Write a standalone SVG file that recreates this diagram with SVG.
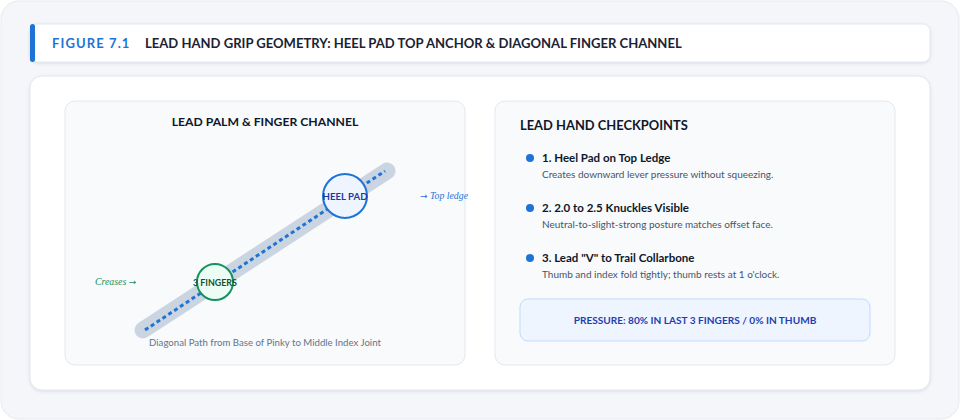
<svg xmlns="http://www.w3.org/2000/svg" width="960" height="420" viewBox="0 0 960 420">
<defs>
<filter id="sh" x="-5%" y="-10%" width="110%" height="130%">
<feDropShadow dx="0" dy="1" stdDeviation="1.5" flood-color="#94a3b8" flood-opacity="0.3"/>
</filter>
<style>
.t{font-family:Lato,"Liberation Sans",sans-serif}
.b{font-weight:700}
.sub{fill:#f8fafc;stroke:#e2e8f0;stroke-width:1}
.h{font-size:11.5px;fill:#0f172a;font-weight:700}
.d{font-size:10px;fill:#475569}
.dot{fill:#1e74d6}
.it{font-family:"Liberation Serif",serif;font-style:italic;font-size:9.8px}
.ar{font-family:"DejaVu Sans",sans-serif;font-style:normal;font-size:9px}
</style>
</defs>
<rect x="1" y="1" width="958" height="418" rx="18" fill="#f4f6f9" stroke="#e5e9f0"/>
<g id="header">
<rect x="30" y="24" width="900" height="38" rx="7" fill="#ffffff" stroke="#e2e8f0" filter="url(#sh)"/>
<rect x="30" y="24" width="5" height="38" rx="2.5" fill="#1e74d6"/>
<text class="t b" x="52" y="48" font-size="13" fill="#1e74d6" letter-spacing="1.1">FIGURE 7.1</text>
<text class="t b" x="145" y="48" font-size="13.05" fill="#1a2233">LEAD HAND GRIP GEOMETRY: HEEL PAD TOP ANCHOR &amp; DIAGONAL FINGER CHANNEL</text>
</g>
<rect x="30" y="76" width="900" height="314" rx="12" fill="#ffffff" stroke="#e2e8f0" filter="url(#sh)"/>
<g id="left-panel">
<rect class="sub" x="65" y="101" width="400" height="264" rx="10"/>
<text class="t b" x="265" y="126" font-size="12.2" fill="#0f172a" text-anchor="middle">LEAD PALM &amp; FINGER CHANNEL</text>
</g>
<g id="connectors">
<line x1="143" y1="330" x2="387" y2="171" stroke="#cbd5e1" stroke-width="17" stroke-linecap="round"/>
<line x1="145" y1="330" x2="385" y2="171" stroke="#1e74d6" stroke-width="3" stroke-dasharray="4 3"/>
</g>
<g id="heel-pad">
<circle cx="345" cy="196" r="22" fill="#eef5ff" stroke="#1e74d6" stroke-width="2"/>
<text class="t b" x="345" y="199.5" font-size="9.6" fill="#1e3a9e" text-anchor="middle">HEEL PAD</text>
</g>
<g id="three-fingers">
<circle cx="215" cy="282" r="18" fill="#ecfdf5" stroke="#15935e" stroke-width="2"/>
<text class="t b" x="215" y="285.5" font-size="8.9" fill="#14532d" text-anchor="middle">3 FINGERS</text>
</g>
<g id="labels">
<text class="it" x="420" y="199" fill="#1e74d6"><tspan class="ar">→</tspan> Top ledge</text>
<text class="it" x="95" y="285" fill="#15935e">Creases <tspan class="ar">→</tspan></text>
<text class="t" x="265" y="346" font-size="9.65" fill="#64748b" text-anchor="middle">Diagonal Path from Base of Pinky to Middle Index Joint</text>
</g>
<g id="right-panel">
<rect class="sub" x="495" y="101" width="400" height="264" rx="10"/>
<text class="t b" x="520" y="130" font-size="12.9" fill="#0f172a">LEAD HAND CHECKPOINTS</text>
</g>
<g id="item1">
<circle class="dot" cx="530" cy="158" r="4"/>
<text class="t h" x="542" y="162">1. Heel Pad on Top Ledge</text>
<text class="t d" x="542" y="178">Creates downward lever pressure without squeezing.</text>
</g>
<g id="item2">
<circle class="dot" cx="530" cy="208" r="4"/>
<text class="t h" x="542" y="212">2. 2.0 to 2.5 Knuckles Visible</text>
<text class="t d" x="542" y="228">Neutral-to-slight-strong posture matches offset face.</text>
</g>
<g id="item3">
<circle class="dot" cx="530" cy="258" r="4"/>
<text class="t h" x="542" y="262">3. Lead "V" to Trail Collarbone</text>
<text class="t d" x="542" y="278">Thumb and index fold tightly; thumb rests at 1 o'clock.</text>
</g>
<g id="pressure">
<rect x="520" y="299" width="350" height="42" rx="8" fill="#eef5ff" stroke="#bfdbfe"/>
<text class="t b" x="695" y="324" font-size="10.1" fill="#1e40af" text-anchor="middle">PRESSURE: 80% IN LAST 3 FINGERS / 0% IN THUMB</text>
</g>
</svg>
